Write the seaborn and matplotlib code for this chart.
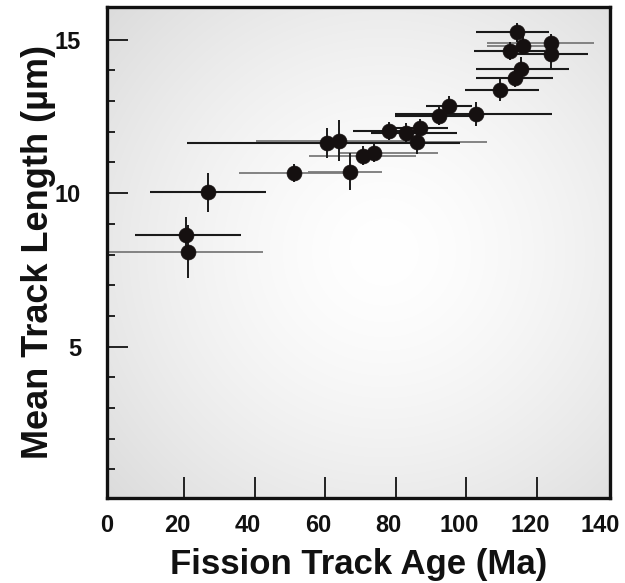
import numpy as np
import pandas as pd
import matplotlib
matplotlib.use("Agg")
import matplotlib.pyplot as plt
import matplotlib.transforms as mtransforms
import seaborn as sns
from matplotlib.ticker import FixedLocator

# ---- data ----
ages    = [21.1, 20.5, 26.7, 51.1, 67.0, 60.4, 63.9, 70.6, 73.9, 78.1, 83.0, 86.8,
           85.9, 92.2, 95.0, 102.7, 109.5, 113.7, 115.6, 112.3, 116.1, 123.9, 123.9, 114.4]
lengths = [8.09, 8.63, 10.02, 10.65, 10.70, 11.63, 11.71, 11.22, 11.32, 12.03, 11.97, 12.11,
           11.68, 12.51, 12.85, 12.58, 13.36, 13.76, 14.04, 14.62, 14.80, 14.88, 14.52, 15.23]
age_lo  = [23.0, 14.5, 16.4, 15.6, 12.0, 39.6, 23.4, 15.2, 10.0, 10.2, 10.0, 8.0,
           19.9, 12.5, 6.5, 23.0, 9.9, 11.0, 12.9, 10.2, 10.4, 18.0, 10.0, 11.7]
age_hi  = [21.3, 15.5, 16.4, 15.0, 9.2, 37.8, 23.0, 15.0, 18.0, 10.0, 14.2, 8.0,
           19.9, 12.5, 6.5, 21.6, 11.0, 10.9, 13.5, 10.0, 10.0, 12.3, 10.5, 9.0]
len_err = [0.86, 0.6, 0.65, 0.3, 0.6, 0.5, 0.66, 0.3, 0.3, 0.3, 0.3, 0.3,
           0.4, 0.3, 0.3, 0.4, 0.35, 0.3, 0.4, 0.3, 0.3, 0.3, 0.5, 0.3]
bar_tone = ['grey', 'black', 'black', 'grey', 'grey', 'black', 'grey', 'grey', 'grey', 'black',
            'black', 'black', 'grey', 'black', 'black', 'black', 'black', 'black', 'black', 'black',
            'grey', 'grey', 'black', 'black']
x_ticks = [0, 20, 40, 60, 80, 100, 120, 140]
y_ticks = [5, 10, 15]
y_minor = [1, 2, 3, 4, 6, 7, 8, 9, 11, 12, 13, 14]

df = pd.DataFrame({"age": ages, "length": lengths, "lo": age_lo, "hi": age_hi,
                   "yerr": len_err, "tone": bar_tone})

sns.set_theme(style="white")
plt.rcParams['font.family'] = ['Liberation Sans', 'DejaVu Sans']

fig = plt.figure(figsize=(6.25, 5.83), dpi=100)
ax = fig.add_axes([0.171, 0.1463, 0.805, 0.8422])

# radial grey background
gx, gy = np.meshgrid(np.linspace(0, 1, 300), np.linspace(0, 1, 300))
r = np.sqrt(((gx - 0.55) / 0.85) ** 2 + ((gy - 0.5) / 0.85) ** 2)
shade = np.clip(1.0 - 0.17 * r ** 1.5, 0.84, 1.0)
img = np.dstack([shade, shade, shade])
ax.imshow(img, extent=[0, 1, 0, 1], transform=ax.transAxes, origin='lower',
          aspect='auto', zorder=0, interpolation='bilinear')

tone_col = {'black': '#1a1a1a', 'grey': '#7a7a7a'}
tone_lw = {'black': 1.5, 'grey': 1.3}
for tone in ['grey', 'black']:
    sub = df[df.tone == tone]
    ax.errorbar(sub.age, sub.length, xerr=[sub.lo, sub.hi], fmt='none',
                ecolor=tone_col[tone], elinewidth=tone_lw[tone], capsize=0, zorder=2)
ax.errorbar(df.age, df.length, yerr=df.yerr, fmt='none', ecolor='#1a1a1a',
            elinewidth=1.4, capsize=0, zorder=3)

sns.scatterplot(data=df, x="age", y="length", ax=ax, s=115, color='#151010',
                edgecolor='#151010', linewidth=0.5, zorder=4, legend=False)

ax.set_xlim(-1.9, 140.7)
ax.set_ylim(0.08, 16.07)
ax.set_xticks(x_ticks)
ax.set_yticks(y_ticks)
ax.yaxis.set_minor_locator(FixedLocator(y_minor))
ax.tick_params(axis='both', which='major', direction='in', length=15, width=1.4,
               color='#222222', labelsize=17, bottom=True, left=True)
ax.tick_params(axis='y', which='minor', direction='in', length=5.5, width=1.4,
               color='#222222', left=True)
ax.tick_params(axis='y', which='major', pad=18.5)
ax.tick_params(axis='x', which='major', pad=12)
ax.tick_params(axis='x', which='both', top=False)
ax.tick_params(axis='y', which='both', right=False)
for tick, loc in zip(ax.xaxis.get_major_ticks(), x_ticks):
    if loc in (x_ticks[0], x_ticks[-1]):
        tick.tick1line.set_visible(False)
shift = mtransforms.ScaledTranslation(-7 / 100, 0, fig.dpi_scale_trans)
for lab in ax.get_xticklabels():
    lab.set_transform(lab.get_transform() + shift)
for lab in ax.get_xticklabels() + ax.get_yticklabels():
    lab.set_fontweight('bold')
    lab.set_color('#111111')

ax.set_xlabel("Fission Track Age (Ma)", fontsize=25, fontweight='bold', color='#111111')
ax.set_ylabel("Mean Track Length (µm)", fontsize=26, fontweight='bold', color='#111111')
ax.yaxis.set_label_coords(-0.101, 0.5)
ax.xaxis.set_label_coords(0.5, -0.103)

for sp in ax.spines.values():
    sp.set_visible(True)
    sp.set_color('#111111')
    sp.set_linewidth(2.4)

fig.savefig("out.png", dpi=100, facecolor='white')
